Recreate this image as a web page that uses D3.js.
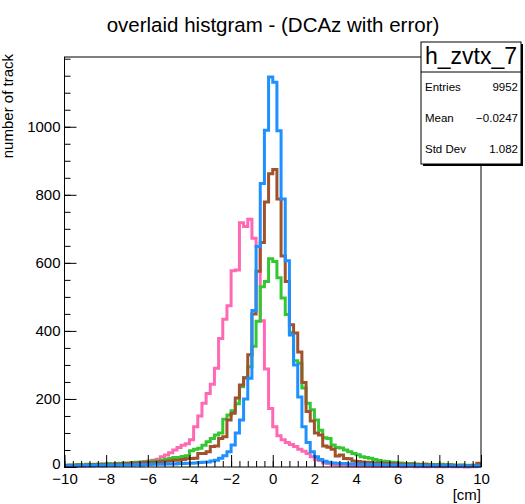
<!DOCTYPE html>
<html>
<head>
<meta charset="utf-8">
<script src="https://cdn.jsdelivr.net/npm/d3@7"></script>
<style>
  body { margin: 0; background: #fff; }
  svg { font-family: "Liberation Sans", Arial, Helvetica, sans-serif; }
</style>
</head>
<body>
<svg id="chart" width="525" height="504"></svg>
<script>
// histogram binning: 100 bins of 0.2 cm from -10 to 10
const xMin = -10, xMax = 10, binWidth = 0.2

// bin contents (index 0 = bin starting at -10)
const pinkCounts = [
  2,3,3,4,3,5,4,5,6,5,
  7,6,8,9,10,11,12,13,15,16,
  18,20,23,30,35,42,50,57,64,68,
  80,118,150,187,216,243,290,378,434,474,
  577,579,718,707,728,672,648,430,288,172,
  118,92,80,72,66,60,52,46,40,30,
  22,19,12,10,7,6,5,5,4,4,
  3,4,3,3,2,3,2,2,3,2,
  2,1,2,2,1,2,1,1,2,1,
  1,1,2,1,1,1,0,1,1,2
]
const greenCounts = [
  5,6,6,7,6,8,7,8,9,8,
  10,9,10,11,12,12,13,14,14,15,
  16,18,18,20,23,25,28,28,31,33,
  48,52,55,64,74,84,94,100,140,153,
  165,186,236,262,295,355,428,530,545,612,
  604,556,497,448,395,312,305,232,187,168,
  138,108,86,84,65,57,56,50,45,40,
  36,30,28,26,22,19,17,16,14,13,
  12,11,10,10,9,8,9,8,7,7,
  8,6,7,6,5,6,5,5,4,6
]
const brownCounts = [
  4,5,5,6,5,6,7,6,7,8,
  7,8,9,8,10,10,11,12,12,13,
  14,14,15,16,17,18,20,20,22,24,
  25,26,40,40,45,60,62,84,89,138,
  158,203,241,262,330,450,575,660,779,862,
  874,788,620,545,418,394,338,248,163,135,
  100,94,62,58,52,32,35,25,24,18,
  16,15,14,13,12,12,11,10,10,9,
  9,8,8,8,7,7,7,6,6,6,
  5,6,5,5,4,5,4,4,5,11
]
const blueCounts = [
  3,4,3,4,4,5,4,5,5,4,
  6,5,5,6,6,6,6,7,6,7,
  7,8,8,8,9,9,9,10,10,11,
  11,12,13,14,15,18,20,26,33,45,
  65,100,138,200,261,460,648,833,990,1146,
  1131,988,788,606,388,300,206,118,72,45,
  30,22,17,14,12,11,10,10,9,9,
  8,8,8,7,7,7,6,6,6,6,
  5,5,5,5,5,4,4,4,4,5,
  4,3,4,3,3,4,3,3,3,4
]
const seriesNames = ["pink", "green", "brown", "blue"]
const seriesColors = ["#ff69b4", "#33c733", "#a0522d", "#1e90ff"]

const xTickValues = [-10, -8, -6, -4, -2, 0, 2, 4, 6, 8, 10]
const yTickValues = [0, 200, 400, 600, 800, 1000]
const yMax = 1205

const titleText = "overlaid histgram - (DCAz with error)"
const xTitle = "[cm]"
const yTitle = "number of track"
const statsName = "h_zvtx_7"
const statLabels = ["Entries", "Mean", "Std Dev"]
const statValues = ["9952", "\u22120.0247", "1.082"]

const svg = d3.select("#chart")
const plotLeft = 64.5, plotRight = 481, plotTop = 57, plotBottom = 467

const x = d3.scaleLinear().domain([xMin, xMax]).range([plotLeft, plotRight])
const y = d3.scaleLinear().domain([0, yMax]).range([plotBottom, plotTop])

// title
svg.append("text")
  .attr("x", 273).attr("y", 32)
  .attr("text-anchor", "middle")
  .style("font-size", "20.5px")
  .text(titleText)

// histograms as step outlines
const stepLine = d3.line()
  .x(d => x(d[0]))
  .y(d => y(d[1]))
  .curve(d3.curveStepAfter)

const allCounts = [pinkCounts, greenCounts, brownCounts, blueCounts]
const plot = svg.append("g")
allCounts.forEach(function(counts, k) {
  let pts = counts.map((c, i) => [xMin + i * binWidth, c])
  pts.push([xMax, counts[counts.length - 1]])
  plot.append("path")
    .attr("class", "hist-" + seriesNames[k])
    .attr("d", stepLine(pts))
    .attr("fill", "none")
    .attr("stroke", seriesColors[k])
    .attr("stroke-width", 3)
    .attr("stroke-linejoin", "miter")
})

// axes (ticks point inside the frame, root style)
const xMinor = d3.range(xMin, xMax + 0.001, 0.4)
svg.append("g")
  .attr("transform", `translate(0,${plotBottom})`)
  .call(d3.axisBottom(x).tickValues(xMinor).tickSizeInner(-6).tickSizeOuter(0).tickFormat(""))
  .call(g => g.select(".domain").remove())
svg.append("g")
  .attr("transform", `translate(0,${plotBottom})`)
  .call(d3.axisBottom(x).tickValues(xTickValues).tickSizeInner(-12).tickSizeOuter(0).tickPadding(6)
    .tickFormat(d => d < 0 ? "\u2212" + Math.abs(d) : d))
  .call(g => g.select(".domain").remove())
  .selectAll("text").style("font-size", "15px").attr("fill", "#000").attr("font-family", null)

const yMinor = d3.range(0, yMax, 50)
svg.append("g")
  .attr("transform", `translate(${plotLeft},0)`)
  .call(d3.axisLeft(y).tickValues(yMinor).tickSizeInner(-6).tickSizeOuter(0).tickFormat(""))
  .call(g => g.select(".domain").remove())
svg.append("g")
  .attr("class", "y-axis")
  .attr("transform", `translate(${plotLeft},0)`)
  .call(d3.axisLeft(y).tickValues(yTickValues).tickSizeInner(-12).tickSizeOuter(0).tickPadding(4)
    .tickFormat(d3.format("d")))
  .call(g => g.select(".domain").remove())
  .selectAll("text").style("font-size", "15px").attr("fill", "#000").attr("font-family", null)

// root nudges the bottom "0" up a little so it clears the x labels
svg.selectAll(".y-axis .tick text").filter(d => d === 0).attr("dy", "0.12em")

svg.selectAll(".tick line").attr("stroke", "#000")

// frame
svg.append("rect")
  .attr("x", plotLeft).attr("y", plotTop)
  .attr("width", plotRight - plotLeft).attr("height", plotBottom - plotTop)
  .attr("fill", "none").attr("stroke", "#000").attr("stroke-width", 1)

// axis titles
svg.append("text")
  .attr("x", plotRight).attr("y", 500)
  .attr("text-anchor", "end")
  .style("font-size", "15px")
  .text(xTitle)
svg.append("text")
  .attr("transform", `translate(13,54) rotate(-90)`)
  .attr("text-anchor", "end")
  .style("font-size", "15px")
  .text(yTitle)

// stats box
const bx = 421, by = 42, bw = 100, bh = 122, headH = 30
svg.append("rect").attr("x", bx + 2).attr("y", by + 2).attr("width", bw).attr("height", bh).attr("fill", "#000")
svg.append("rect").attr("x", bx).attr("y", by).attr("width", bw).attr("height", bh)
  .attr("fill", "#fff").attr("stroke", "#000").attr("stroke-width", 1)
svg.append("line").attr("x1", bx).attr("x2", bx + bw).attr("y1", by + headH).attr("y2", by + headH).attr("stroke", "#000")
svg.append("text")
  .attr("x", bx + bw / 2).attr("y", by + 22)
  .attr("text-anchor", "middle")
  .style("font-size", "23px")
  .text(statsName)
const rowH = (bh - headH) / statLabels.length
statLabels.forEach(function(lab, i) {
  let cy = by + headH + rowH * (i + 0.5) + 4
  svg.append("text").attr("x", bx + 4).attr("y", cy).style("font-size", "11.5px").text(lab)
  svg.append("text").attr("x", bx + bw - 3).attr("y", cy).attr("text-anchor", "end").style("font-size", "11.5px").text(statValues[i])
})
</script>
</body>
</html>
